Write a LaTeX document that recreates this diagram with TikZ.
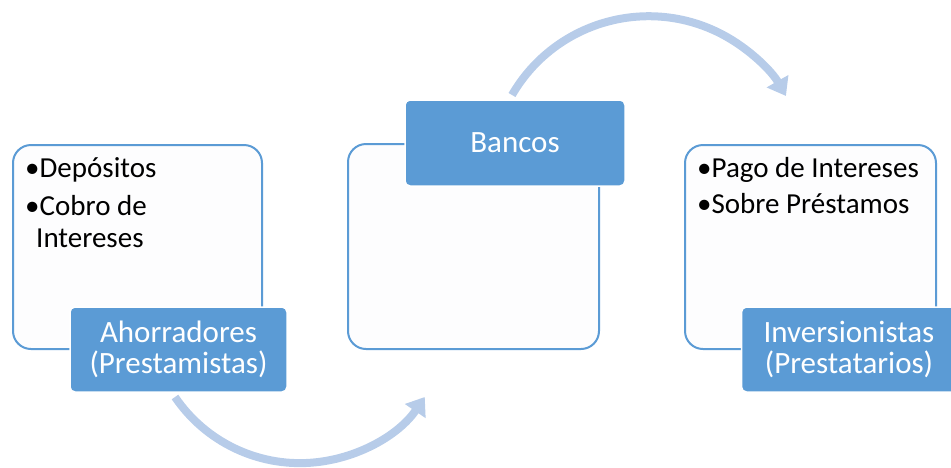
\documentclass[tikz,border=0pt]{standalone}
\usepackage{fontspec}
\setmainfont{Carlito}
\usetikzlibrary{arrows.meta}
\definecolor{accent}{HTML}{5B9BD5}
\definecolor{arrowc}{HTML}{B7CCE9}
\definecolor{boxfill}{HTML}{FDFDFE}
\begin{document}
\begin{tikzpicture}[x=1pt,y=-1pt,
 outerbox/.style={draw=accent, line width=2pt, fill=boxfill, rounded corners=18pt, anchor=north west, inner sep=0pt},
 labelbox/.style={fill=accent, draw=white, line width=1.5pt, rounded corners=5pt, text=white, align=center, font=\fontsize{31}{31}\selectfont, inner sep=0pt},
 bodytext/.style={anchor=base west, inner sep=0pt, font=\fontsize{29}{31}\selectfont},
 flow/.style={draw=arrowc, line width=8pt, -{Triangle[width=24pt,length=17pt]}}
]
\useasboundingbox (0,0) rectangle (951,467);
% outer boxes
\node[outerbox, minimum width=249pt, minimum height=204pt] (b1) at (12,144) {};
\node[outerbox, minimum width=251pt, minimum height=205pt] (b2) at (347,143) {};
\node[outerbox, minimum width=251pt, minimum height=204pt] (b3) at (684,144) {};
% flow arrows
\coordinate (s1) at (175,397);
\coordinate (s2) at (512,95);
\draw[flow] (s1) arc[start angle=145.8, end angle=34.2, radius=151];
\draw[flow] (s2) arc[start angle=210.1, end angle=330.3, radius=158];
% body text
\node[bodytext] (t1) at (25,177) {•Depósitos};
\node[bodytext] (t2) at (25,215) {•Cobro de};
\node[bodytext] (t3) at (36,247) {Intereses};
\node[bodytext] (t4) at (697,177) {•Pago de Intereses};
\node[bodytext] (t5) at (697,213) {•Sobre Préstamos};
% labels
\node[labelbox, minimum width=217pt, minimum height=85pt] (l1) at (178.5,349.5) {Ahorradores\\(Prestamistas)};
\node[labelbox, minimum width=220pt, minimum height=86pt] (l2) at (515,143) {Bancos};
\node[labelbox, minimum width=215pt, minimum height=85pt] (l3) at (849,349.5) {Inversionistas\\(Prestatarios)};
\end{tikzpicture}
\end{document}
